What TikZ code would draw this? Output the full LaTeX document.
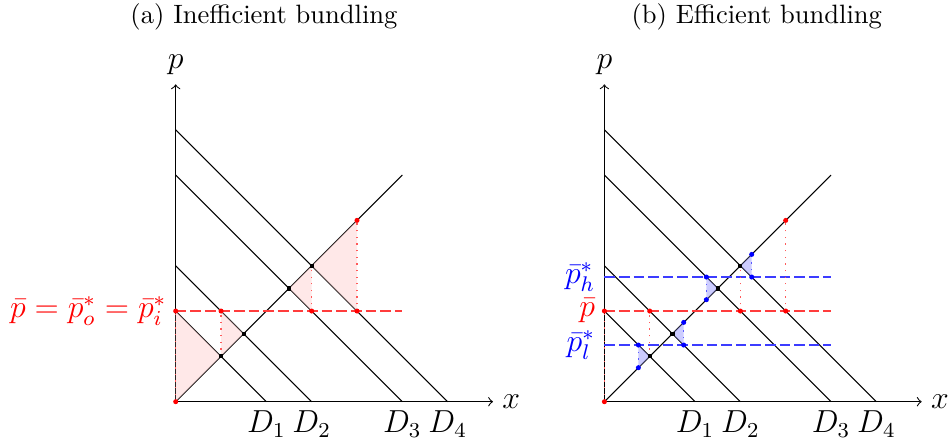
\documentclass[tikz,border=0pt]{standalone}
\usetikzlibrary{calc}
\definecolor{dashred}{RGB}{255,60,60}
\definecolor{dashblue}{RGB}{60,60,255}
\definecolor{dotred}{RGB}{255,90,90}
\definecolor{dotblue}{RGB}{90,90,255}
\tikzset{
  axis/.style={->},
  dline/.style={black},
  pbarline/.style={color=dashred, line width=0.6pt, dash pattern=on 4pt off 1.5pt},
  pstarline/.style={color=dashblue, line width=0.6pt, dash pattern=on 4pt off 1.5pt},
  rdots/.style={color=dotred, line width=0.5pt, dotted},
  bdots/.style={color=dotblue, line width=0.5pt, dotted},
  redarea/.style={fill=red!18, fill opacity=0.5},
  bluearea/.style={fill=blue!40, fill opacity=0.5},
  rpt/.style={circle, fill=red, inner sep=0pt, minimum size=1.9pt},
  bpt/.style={circle, fill=blue, inner sep=0pt, minimum size=1.9pt},
  kpt/.style={rectangle, fill=black, inner sep=0pt, minimum size=1.6pt},
  lab/.style={font=\large},
}
\newcommand\basepanel{%
  \coordinate (O) at (0,0);
  \coordinate (X) at (7,0);
  \coordinate (Y) at (0,7);
  \coordinate (S) at (5,5);
  \coordinate (d1t) at (0,2); \coordinate (d1b) at (2,0);
  \coordinate (d2t) at (0,3); \coordinate (d2b) at (3,0);
  \coordinate (d3t) at (0,5); \coordinate (d3b) at (5,0);
  \coordinate (d4t) at (0,6); \coordinate (d4b) at (6,0);
  \coordinate (E1) at (1,1);
  \coordinate (E2) at (1.5,1.5);
  \coordinate (E3) at (2.5,2.5);
  \coordinate (E4) at (3,3);
  \coordinate (P0) at (0,2);
  \coordinate (P5) at (5,2);
  \coordinate (A1) at (1,2);
  \coordinate (A3) at (3,2);
  \coordinate (A4) at (4,2);
  \coordinate (A44) at (4,4);
  \draw[axis] (O) -- (X);
  \draw[axis] (O) -- (Y);
  \draw[dline] (O) -- (S);
  \draw[dline] (d1t) -- (d1b);
  \draw[dline] (d2t) -- (d2b);
  \draw[dline] (d3t) -- (d3b);
  \draw[dline] (d4t) -- (d4b);
  \node[lab, above] (plab) at (Y) {$p$};
  \node[lab, right] (xlab) at (X) {$x$};
  \node[lab, below] (D1) at (d1b) {$D_1$};
  \node[lab, below] (D2) at (d2b) {$D_2$};
  \node[lab, below] (D3) at (d3b) {$D_3$};
  \node[lab, below] (D4) at (d4b) {$D_4$};
}
\newcommand\redparts{%
  \draw[pbarline] (P0) -- (P5);
  \draw[rdots] (O) -- (P0);
  \draw[rdots] (E1) -- (A1);
  \draw[rdots] (A3) -- (E4);
  \draw[rdots] (A4) -- (A44);
}
\newcommand\pointmarks{%
  \foreach \q in {O,P0,A1,A3,A4,A44} { \node[rpt] at (\q) {}; }
  \foreach \q in {E1,E2,E3,E4} { \node[kpt] at (\q) {}; }
}
\begin{document}
\begin{tikzpicture}[x=0.6cm, y=0.6cm]
\useasboundingbox (-3.876,-0.977) rectangle (17.126,8.862);
\node[anchor=base] (ta) at (1.948,8.354) {(a) Inefficient bundling};
\node[anchor=base] (tb) at (12.819,8.354) {(b) Efficient bundling};
% ---------- panel (a)
\begin{scope}[name prefix=a-]
  \basepanel
  \fill[redarea] (O) -- (P0) -- (E1) -- cycle;
  \fill[redarea] (E1) -- (A1) -- (E2) -- cycle;
  \fill[redarea] (E3) -- (E4) -- (A3) -- cycle;
  \fill[redarea] (E4) -- (A44) -- (A4) -- cycle;
  \redparts
  \node[lab, left, text=red] (plabel) at (P0) {$\bar p = \bar p^*_o = \bar p^*_i$};
  \pointmarks
\end{scope}
% ---------- panel (b)
\begin{scope}[shift={(9.457,0)}, name prefix=b-]
  \basepanel
  \coordinate (L0) at (0,1.25);   \coordinate (L5) at (5,1.25);
  \coordinate (H0) at (0,2.75);   \coordinate (H5) at (5,2.75);
  \coordinate (L1) at (0.75,1.25); \coordinate (L1d) at (0.75,0.75);
  \coordinate (L2) at (1.75,1.25); \coordinate (L2u) at (1.75,1.75);
  \coordinate (H3) at (2.25,2.75); \coordinate (H3d) at (2.25,2.25);
  \coordinate (H4) at (3.25,2.75); \coordinate (H4u) at (3.25,3.25);
  \fill[bluearea] (L1) -- (L1d) -- (E1) -- cycle;
  \fill[bluearea] (E2) -- (L2u) -- (L2) -- cycle;
  \fill[bluearea] (E3) -- (H3) -- (H3d) -- cycle;
  \fill[bluearea] (E4) -- (H4u) -- (H4) -- cycle;
  \draw[pstarline] (L0) -- (L5);
  \draw[pstarline] (H0) -- (H5);
  \draw[bdots] (L1) -- (L1d);
  \draw[bdots] (L2) -- (L2u);
  \draw[bdots] (H3) -- (H3d);
  \draw[bdots] (H4) -- (H4u);
  \redparts
  \node[lab, left, text=blue] (hlabel) at (H0) {$\bar p^*_h$};
  \node[lab, left, text=red] (plabel) at (P0) {$\bar p$};
  \node[lab, left, text=blue] (llabel) at (L0) {$\bar p^*_l$};
  \pointmarks
  \foreach \q in {L1,L1d,L2,L2u,H3,H3d,H4,H4u} { \node[bpt] at (\q) {}; }
\end{scope}
\end{tikzpicture}
\end{document}
